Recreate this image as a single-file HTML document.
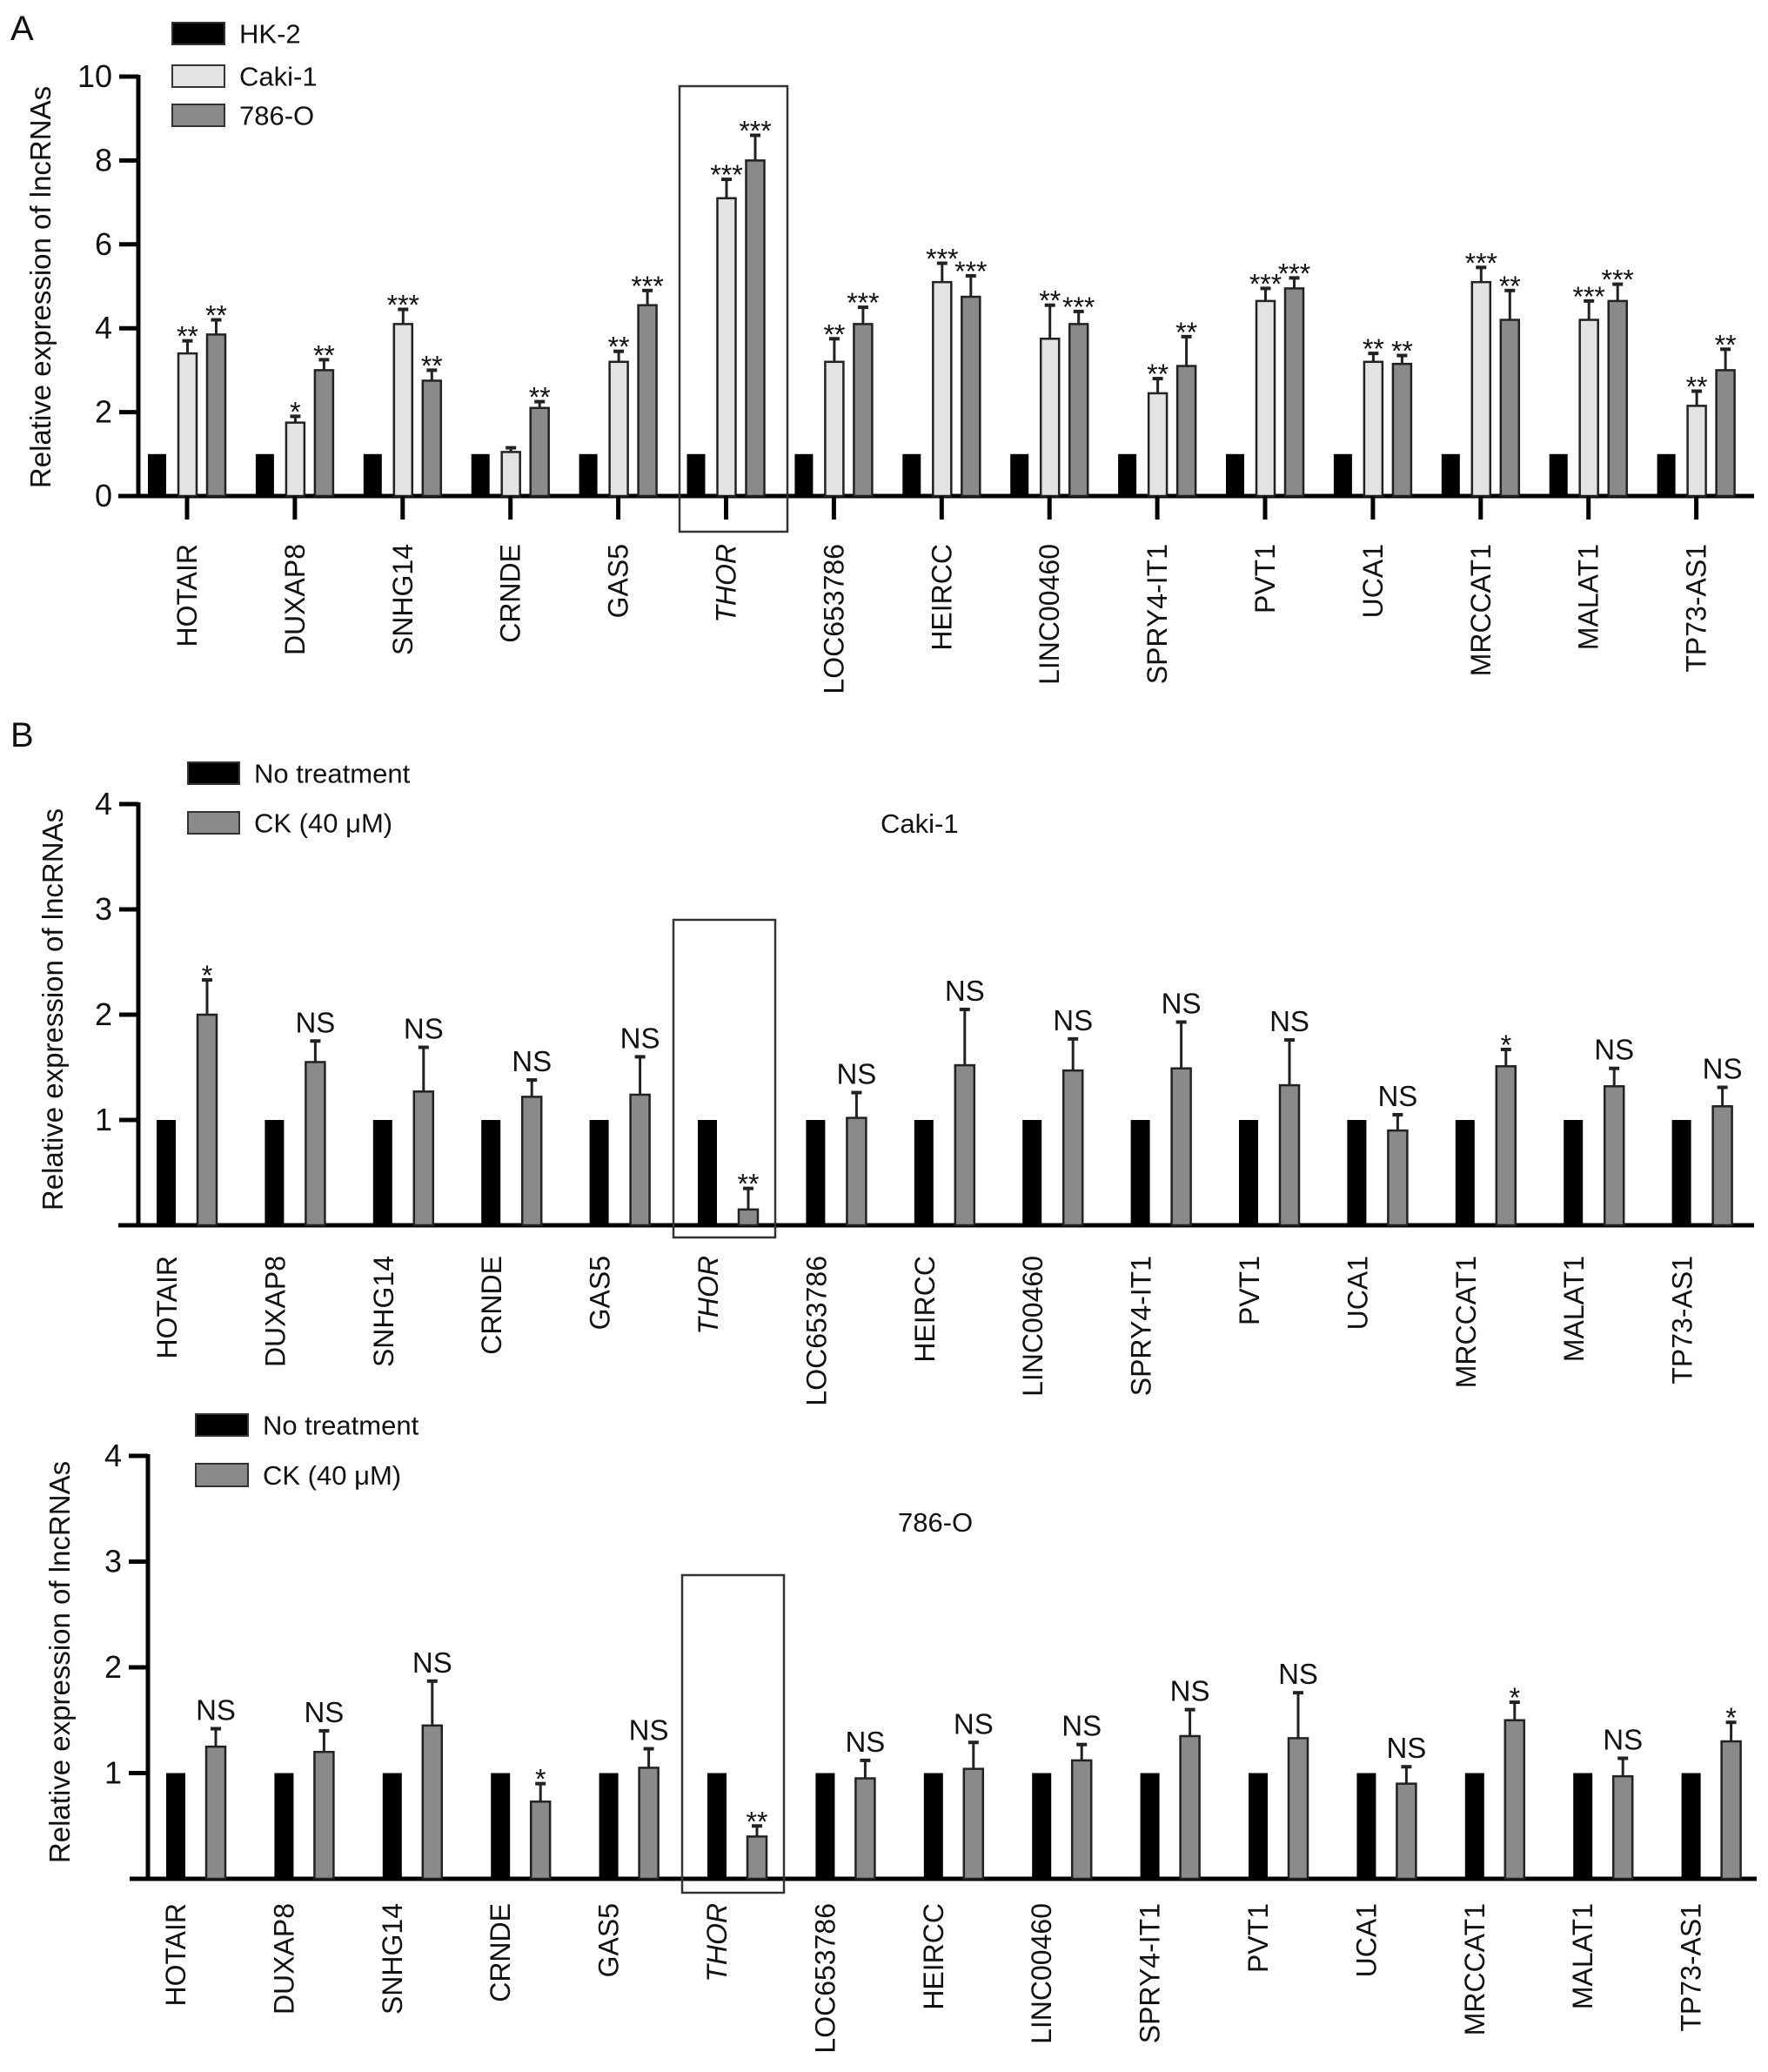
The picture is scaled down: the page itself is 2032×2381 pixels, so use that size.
<!DOCTYPE html>
<html><head><meta charset="utf-8"><style>
html,body{margin:0;padding:0;background:#fff;}
svg text{font-family:"Liberation Sans",sans-serif;fill:#111;}
</style></head><body>
<svg id="fig" width="2032" height="2376" viewBox="0 0 2032 2376" xmlns="http://www.w3.org/2000/svg"></svg>
<script>
const categories=["HOTAIR","DUXAP8","SNHG14","CRNDE","GAS5","THOR","LOC653786","HEIRCC","LINC00460","SPRY4-IT1","PVT1","UCA1","MRCCAT1","MALAT1","TP73-AS1"];
// Panel A
const aHK2=[1,1,1,1,1,1,1,1,1,1,1,1,1,1,1];
const aCaki=[3.4,1.75,4.1,1.05,3.2,7.1,3.2,5.1,3.75,2.45,4.65,3.2,5.1,4.2,2.15];
const aCakiErr=[0.3,0.15,0.35,0.1,0.25,0.45,0.55,0.45,0.8,0.35,0.3,0.2,0.35,0.45,0.35];
const a786=[3.85,3.0,2.75,2.1,4.55,8.0,4.1,4.75,4.1,3.1,4.95,3.15,4.2,4.65,3.0];
const a786Err=[0.35,0.25,0.25,0.15,0.35,0.6,0.4,0.5,0.3,0.7,0.25,0.2,0.7,0.4,0.5];
const aCakiSig=["**","*","***","","**","***","**","***","**","**","***","**","***","***","**"];
const a786Sig=["**","**","**","**","***","***","***","***","***","**","***","**","**","***","**"];
const aTicks=[0,2,4,6,8,10];
// Panel B Caki-1
const bCtrl=[1,1,1,1,1,1,1,1,1,1,1,1,1,1,1];
const bCaki=[2.0,1.55,1.27,1.22,1.24,0.15,1.02,1.52,1.47,1.49,1.33,0.9,1.51,1.32,1.13];
const bCakiErr=[0.33,0.2,0.42,0.16,0.36,0.2,0.24,0.53,0.3,0.44,0.43,0.15,0.16,0.17,0.18];
const bCakiSig=["*","NS","NS","NS","NS","**","NS","NS","NS","NS","NS","NS","*","NS","NS"];
// Panel B 786-O
const b786=[1.25,1.2,1.45,0.73,1.05,0.4,0.95,1.04,1.12,1.35,1.33,0.9,1.5,0.97,1.3];
const b786Err=[0.17,0.2,0.42,0.17,0.18,0.1,0.17,0.25,0.15,0.25,0.43,0.16,0.17,0.17,0.18];
const b786Sig=["NS","NS","NS","*","NS","**","NS","NS","NS","NS","NS","NS","*","NS","*"];
const bTicks=[1,2,3,4];

const svg=document.getElementById('fig');
const NS='http://www.w3.org/2000/svg';
function el(tag,attrs,parent){const e=document.createElementNS(NS,tag);for(const k in attrs)e.setAttribute(k,attrs[k]);(parent||svg).appendChild(e);return e;}
function txt(s,attrs,parent){const e=el('text',attrs,parent);e.textContent=s;return e;}

function panel(o){
  const g=el('g',{});
  
  
  const y=v=>o.y0-(v-o.ymin)*o.unit;
  const gx=i=>o.x0+i*o.step;
  const ya=el('line',{x1:o.axX,y1:y(o.ymax)-2,x2:o.axX,y2:o.y0,stroke:'#000','stroke-width':5},g);
  
  
  const xa=el('line',{x1:o.xStart,y1:o.y0,x2:o.xEnd,y2:o.y0,stroke:'#000','stroke-width':5},g);
  
  
  o.ticks.forEach(t=>{
    el('line',{x1:o.axX-22,y1:y(t),x2:o.axX,y2:y(t),stroke:'#000','stroke-width':5},g);
    const tl=txt(String(t),{x:o.axX-30,y:y(t)+12,'text-anchor':'end','font-size':36},g);
    
    
  });
  const yt=txt('Relative expression of lncRNAs',{x:0,y:0,'text-anchor':'middle','font-size':33,transform:`translate(${o.ytX},${o.ytY}) rotate(-90)`},g);
  
  
  categories.forEach((c,i)=>{
    const base=gx(i);
    o.series.forEach((s,si)=>{
      const v=s.vals[i];const bx=base+s.off;
      const r=el('rect',{x:bx,y:y(v),width:o.bw,height:o.y0-y(v),fill:s.fill,stroke:'#222','stroke-width':s.fill==='#000'?0:2.5},g);
      
      
      if(s.err){
        const e=s.err[i];const cx=bx+o.bw/2;
        el('line',{x1:cx,y1:y(v),x2:cx,y2:y(v+e),stroke:'#222','stroke-width':3},g);
        el('line',{x1:cx-6,y1:y(v+e),x2:cx+6,y2:y(v+e),stroke:'#222','stroke-width':4},g);
        const sg=s.sig[i];
        if(sg){
          const isNS=sg==='NS';
          const st=txt(sg,{x:cx,y:isNS?y(v+e)-10:y(v+e)+6,'text-anchor':'middle','font-size':isNS?33:32},g);
          
          
        }
      }
    });
    if(o.xTicks){el('line',{x1:base+o.tickOff,y1:o.y0,x2:base+o.tickOff,y2:o.y0+27,stroke:'#000','stroke-width':5},g);}
    const lx=base+o.labOff;
    const lab=txt(c,{x:0,y:0,'text-anchor':'end','font-size':32,'font-style':c==='THOR'?'italic':'normal',transform:`translate(${lx+11},${o.labTop}) rotate(-90)`},g);
    
    
  });
  const bx=el('rect',{x:o.box[0],y:o.box[1],width:o.box[2]-o.box[0],height:o.box[3]-o.box[1],fill:'none',stroke:'#333','stroke-width':2.5},g);
  
  
  o.legend.forEach(l=>{
    const lg=el('g',{},g);
    
    
    el('rect',{x:l.x,y:l.y,width:l.w,height:l.h,fill:l.fill,stroke:'#333','stroke-width':2},lg);
    txt(l.t,{x:l.x+l.w+17,y:l.y+l.h/2+11,'font-size':31},lg);
  });
}

panel({name:'panel-a-chart',x0:170,step:123.9,bw:21,y0:570,ymin:0,ymax:10,unit:48.2,axX:159,xStart:136,xEnd:2016,
  ticks:aTicks,ytX:58,ytY:330,xTicks:true,tickOff:45,labOff:45,labTop:625,box:[781,99,905,611],
  series:[{key:'hk2',vals:aHK2,fill:'#000',off:0},{key:'caki1',vals:aCaki,err:aCakiErr,sig:aCakiSig,fill:'#e3e3e3',off:35},{key:'786o',vals:a786,err:a786Err,sig:a786Sig,fill:'#8a8a8a',off:68}],
  legend:[{x:198,y:26,w:60,h:25,fill:'#000',t:'HK-2'},{x:198,y:75,w:60,h:25,fill:'#e3e3e3',t:'Caki-1'},{x:198,y:120,w:60,h:25,fill:'#8a8a8a',t:'786-O'}]});
panel({name:'panel-b-caki1-chart',x0:180,step:124.4,bw:22,y0:1408,ymin:0,ymax:4,unit:121,axX:159,xStart:136,xEnd:2016,
  ticks:bTicks,ytX:72,ytY:1160,xTicks:false,tickOff:0,labOff:12,labTop:1443,box:[774,1057,891,1422],
  series:[{key:'no-treatment',vals:bCtrl,fill:'#000',off:0},{key:'ck',vals:bCaki,err:bCakiErr,sig:bCakiSig,fill:'#8a8a8a',off:47}],
  legend:[{x:216,y:876,w:59,h:25,fill:'#000',t:'No treatment'},{x:216,y:933,w:59,h:25,fill:'#8a8a8a',t:'CK (40 μM)'}]});
panel({name:'panel-b-786o-chart',x0:191,step:124.4,bw:22,y0:2159,ymin:0,ymax:4,unit:121.5,axX:170,xStart:149,xEnd:2019,
  ticks:bTicks,ytX:80,ytY:1910,xTicks:false,tickOff:0,labOff:11,labTop:2187,box:[784,1810,901,2175],
  series:[{key:'no-treatment',vals:bCtrl,fill:'#000',off:0},{key:'ck',vals:b786,err:b786Err,sig:b786Sig,fill:'#8a8a8a',off:46}],
  legend:[{x:225,y:1625,w:60,h:25,fill:'#000',t:'No treatment'},{x:225,y:1682,w:60,h:26,fill:'#8a8a8a',t:'CK (40 μM)'}]});

let t;
t=txt('A',{x:12,y:46,'font-size':40});
t=txt('B',{x:12,y:858,'font-size':40});
t=txt('Caki-1',{x:1012,y:957,'font-size':31});
t=txt('786-O',{x:1032,y:1760,'font-size':31});
</script>
</body></html>
